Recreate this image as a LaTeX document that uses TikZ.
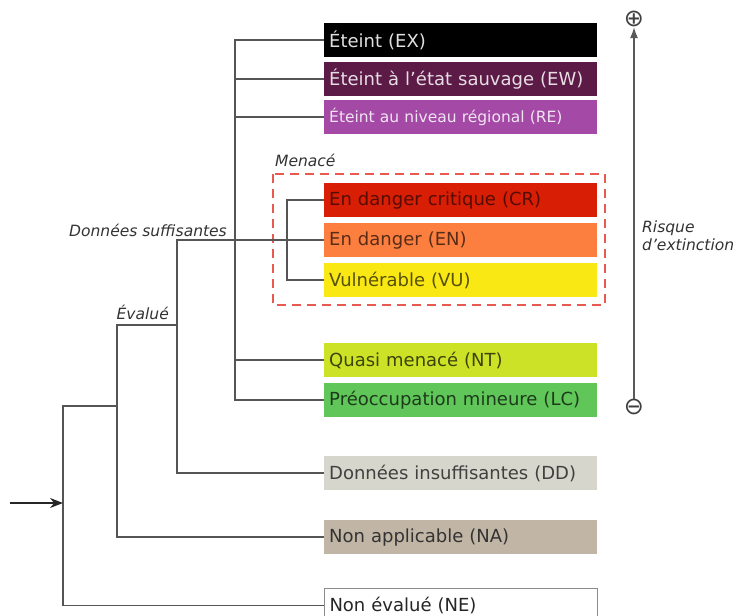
\documentclass[tikz,border=0pt]{standalone}
\usepackage{fontspec}
\setmainfont{DejaVu Sans}
\usetikzlibrary{arrows.meta}
\definecolor{cEX}{HTML}{000000}
\definecolor{cEW}{HTML}{5C1A47}
\definecolor{cRE}{HTML}{A44AA6}
\definecolor{cCR}{HTML}{D81E05}
\definecolor{cEN}{HTML}{FC7F3F}
\definecolor{cVU}{HTML}{F9E814}
\definecolor{cNT}{HTML}{CCE226}
\definecolor{cLC}{HTML}{60C659}
\definecolor{cDD}{HTML}{D6D6CC}
\definecolor{cNA}{HTML}{C1B5A5}
\definecolor{lineg}{HTML}{555555}
\definecolor{dashr}{HTML}{E85A50}
\begin{document}
\begin{tikzpicture}[x=1pt,y=-1pt,
  catbox/.style={draw=none,minimum width=273pt,minimum height=34pt,inner xsep=5pt,inner ysep=0pt,
    text width=263pt,align=left,anchor=north west,font=\fontsize{18}{20}\selectfont},
  tline/.style={draw=lineg,line width=1.5pt},
  lbl/.style={font=\fontsize{15.5}{18}\selectfont\itshape,text=black!80,inner sep=0pt}]
\useasboundingbox (0,0) rectangle (735,615);
% boxes
\node[catbox,fill=cEX,text=black!12] (ex) at (324,23) {Éteint (EX)};
\node[catbox,fill=cEW,text=white!85!cEW] (ew) at (324,62) {Éteint à l'état sauvage (EW)};
\node[catbox,fill=cRE,text=white!85!cRE,font=\fontsize{15.5}{18}\selectfont] (re) at (324,100) {Éteint au niveau régional (RE)};
\node[catbox,fill=cCR,text=cCR!40!black] (cr) at (324,183) {En danger critique (CR)};
\node[catbox,fill=cEN,text=cEN!35!black] (en) at (324,223) {En danger (EN)};
\node[catbox,fill=cVU,text=cVU!35!black] (vu) at (324,263) {Vulnérable (VU)};
\node[catbox,fill=cNT,text=cNT!30!black] (nt) at (324,343) {Quasi menacé (NT)};
\node[catbox,fill=cLC,text=cLC!30!black] (lc) at (324,383) {Préoccupation mineure (LC)};
\node[catbox,fill=cDD,text=black!75] (dd) at (324,456) {Données insuffisantes (DD)};
\node[catbox,fill=cNA,text=black!80] (na) at (324,520) {Non applicable (NA)};
\node[catbox,fill=white,draw=black!45,line width=1pt,text=black!85] (ne) at (324,588) {Non évalué (NE)};
% dashed group
\draw[dashr,line width=1.5pt,dash pattern=on 9pt off 6pt] (273,174) rectangle (605,305);
\node[lbl,anchor=south west] (men) at (275,167) {Menacé};
% tree
\draw[tline] (ex.west) -- ++(-89,0) coordinate (j1) -- (j1 |- lc.west) -- (lc.west);
\draw[tline] (ew.west) -- (ew.west -| j1);
\draw[tline] (re.west) -- (re.west -| j1);
\draw[tline] (nt.west) -- (nt.west -| j1);
\draw[tline] (cr.west) -- ++(-37,0) coordinate (j2) |- (vu.west);
\draw[tline] (en.west) -- ++(-147,0) coordinate (j3) |- (dd.west);
\coordinate (j4) at (117,325);
\draw[tline] (j3 |- j4) -- (j4) |- (na.west);
\coordinate (j5) at (63,406);
\draw[tline] (j4 |- j5) -- (j5) |- (ne.west);
\coordinate (in) at (10,503);
\draw[tline,draw=black!85,-{Stealth[length=13pt,width=10pt]}] (in) -- (in -| j5);
% labels
\node[lbl,anchor=south east] (dsl) at (227,237) {Données suffisantes};
\node[lbl,anchor=south east] (evl) at (169,320) {Évalué};
% risk axis
\node[inner sep=0pt,font=\fontsize{24}{24}\selectfont,text=black!75] (plus) at (634,19) {⊕};
\node[inner sep=0pt,font=\fontsize{24}{24}\selectfont,text=black!75] (minus) at (634,407) {⊖};
\draw[draw=black!65,line width=1.5pt,-{Latex[length=11pt,width=8pt]}] (minus) -- (plus);
\node[lbl,anchor=west,align=left,font=\fontsize{15.5}{18}\selectfont\itshape] (risk) at (642,236) {Risque\\d'extinction};
\end{tikzpicture}
\end{document}
